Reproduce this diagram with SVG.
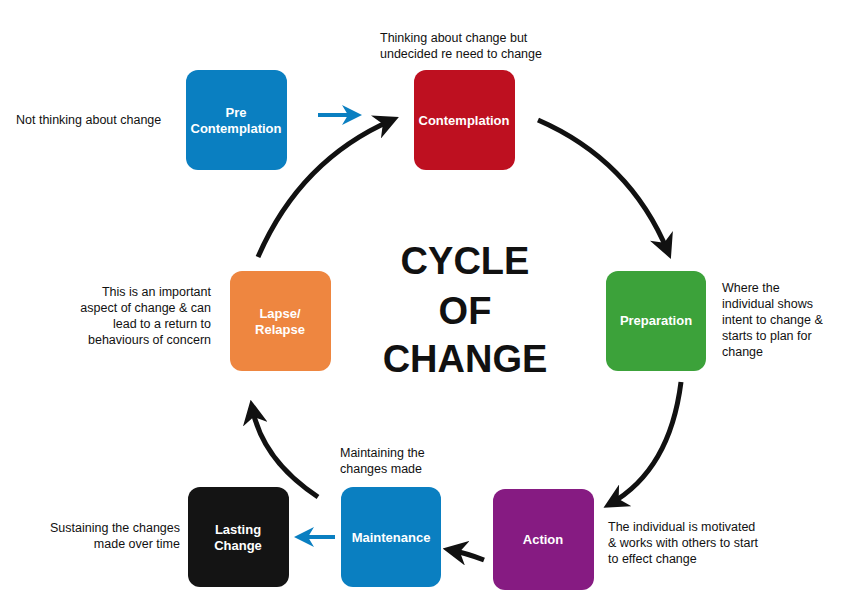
<svg xmlns="http://www.w3.org/2000/svg" width="846" height="613" viewBox="0 0 846 613">
<style>
.box{stroke:none}
.bt{font-family:"Liberation Sans",Arial,sans-serif;font-weight:bold;font-size:13px;fill:#fff;text-anchor:middle}
.d{font-family:"Liberation Sans",Arial,sans-serif;font-size:12.5px;fill:#111}
.arc{fill:none;stroke:#111;stroke-width:5;marker-end:url(#ah)}
.blue{fill:none;stroke:#0a7fc1;stroke-width:4;marker-end:url(#bh)}
.title{font-family:"Liberation Sans",Arial,sans-serif;font-weight:bold;font-size:38px;fill:#111;text-anchor:middle}
</style>
<defs>
<marker id="ah" viewBox="0 0 10 10" refX="7" refY="5" markerWidth="5" markerHeight="5" orient="auto" markerUnits="strokeWidth"><path d="M0,0 L10,5 L0,10 L3,5 Z" fill="#111"/></marker>
<marker id="bh" viewBox="0 0 10 10" refX="8" refY="5" markerWidth="5" markerHeight="5" orient="auto" markerUnits="strokeWidth"><path d="M0,0 L10,5 L0,10 L3,5 Z" fill="#0a7fc1"/></marker>
</defs>
<rect width="846" height="613" fill="#fff"/>
<g id="connectors">
<path class="arc" d="M538,120 Q630,160 668,252"/>
<path class="arc" d="M681,382 Q670,470 610,504"/>
<path class="arc" d="M484,560 Q466,553 450,550"/>
<path class="arc" d="M318,497 Q262,460 252,407"/>
<path class="arc" d="M258,257 Q300,160 392,120"/>
<path class="blue" d="M318,115 L358,115"/>
<path class="blue" d="M335,537 L298,537"/>
</g>
<g id="pre"><rect class="box" x="186" y="70" width="101" height="100" rx="12" fill="#0a7fc1"/><text class="bt" x="236" y="117">Pre</text><text class="bt" x="236" y="133">Contemplation</text></g>
<g id="contemplation"><rect class="box" x="414" y="70" width="101" height="100" rx="12" fill="#be1020"/><text class="bt" x="464" y="125">Contemplation</text></g>
<g id="preparation"><rect class="box" x="606" y="271" width="100" height="100" rx="12" fill="#3ca23a"/><text class="bt" x="656" y="325">Preparation</text></g>
<g id="action"><rect class="box" x="493" y="489" width="101" height="101" rx="12" fill="#861b82"/><text class="bt" x="543" y="544">Action</text></g>
<g id="maintenance"><rect class="box" x="341" y="487" width="100" height="100" rx="12" fill="#0a7fc1"/><text class="bt" x="391" y="542">Maintenance</text></g>
<g id="lasting"><rect class="box" x="188" y="487" width="101" height="100" rx="12" fill="#141414"/><text class="bt" x="238" y="534">Lasting</text><text class="bt" x="238" y="550">Change</text></g>
<g id="lapse"><rect class="box" x="230" y="271" width="101" height="100" rx="12" fill="#ee8640"/><text class="bt" x="280" y="318">Lapse/</text><text class="bt" x="280" y="334">Relapse</text></g>
<g id="title"><text class="title" x="465" y="274">CYCLE</text><text class="title" x="465" y="324">OF</text><text class="title" x="465" y="372">CHANGE</text></g>
<g id="labels">
<text class="d" x="16" y="124">Not thinking about change</text>
<text class="d" x="380" y="42">Thinking about change but</text>
<text class="d" x="380" y="58">undecided re need to change</text>
<text class="d" x="722" y="292">Where the</text>
<text class="d" x="722" y="308">individual shows</text>
<text class="d" x="722" y="324">intent to change &amp;</text>
<text class="d" x="722" y="340">starts to plan for</text>
<text class="d" x="722" y="356">change</text>
<text class="d" x="608" y="531">The individual is motivated</text>
<text class="d" x="608" y="547">&amp; works with others to start</text>
<text class="d" x="608" y="563">to effect change</text>
<text class="d" x="340" y="457">Maintaining the</text>
<text class="d" x="340" y="473">changes made</text>
<text class="d" x="180" y="532" text-anchor="end">Sustaining the changes</text>
<text class="d" x="180" y="548" text-anchor="end">made over time</text>
<text class="d" x="211" y="296" text-anchor="end">This is an important</text>
<text class="d" x="211" y="312" text-anchor="end">aspect of change &amp; can</text>
<text class="d" x="211" y="328" text-anchor="end">lead to a return to</text>
<text class="d" x="211" y="344" text-anchor="end">behaviours of concern</text>
</g>
</svg>
